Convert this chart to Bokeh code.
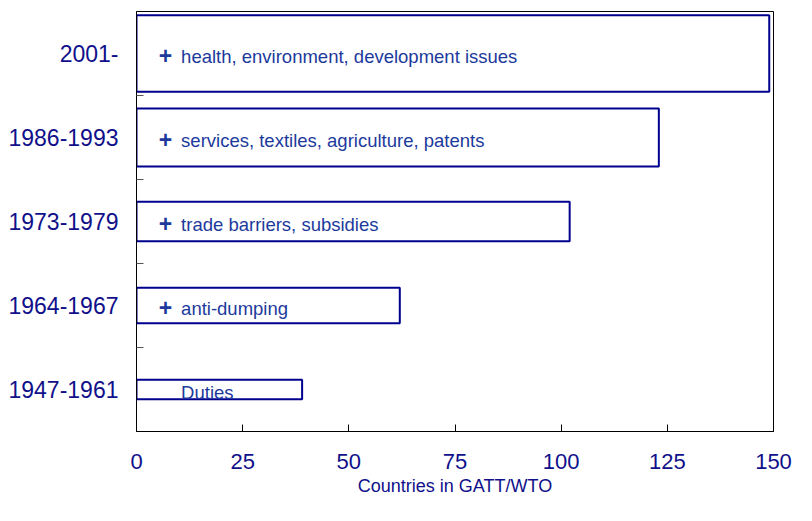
from bokeh.plotting import figure
from bokeh.models import ColumnDataSource, FixedTicker, Range1d
from bokeh.core.properties import value
from bokeh.embed import file_html
from bokeh.resources import INLINE

# ---- data ----
rounds = ["1947-1961", "1964-1967", "1973-1979", "1986-1993", "2001-"]
countries = [39, 62, 102, 123, 149]
topics = ["Duties", "anti-dumping", "trade barriers, subsidies",
          "services, textiles, agriculture, patents",
          "health, environment, development issues"]
adds_topics = [False, True, True, True, True]
x_ticks = [0, 25, 50, 75, 100, 125, 150]

# ---- style ----
bar_heights = [0.23, 0.42, 0.47, 0.69, 0.91]
NAVY = "#10108a"
BAR = "#00008f"
TXT = "#1c3a9c"
FONT = "Liberation Sans"

ypos = list(range(len(rounds)))
src = ColumnDataSource(dict(y=ypos, right=countries, h=bar_heights, topic=topics))
plus_src = ColumnDataSource(dict(
    y=[y for y, a in zip(ypos, adds_topics) if a],
    t=["+" for a in adds_topics if a]))

p = figure(width=796, height=505, output_backend="svg", toolbar_location=None,
           x_range=Range1d(0, 150), y_range=Range1d(-0.5, len(rounds) - 0.5),
           min_border_left=136, min_border_top=11, min_border_right=23,
           min_border_bottom=74)
p.background_fill_color = "white"
p.border_fill_color = "white"
p.grid.visible = False
p.outline_line_color = "black"
p.outline_line_width = 1

p.hbar(y="y", left=0, right="right", height="h", source=src,
       fill_color="white", line_color=BAR, line_width=2)

p.text(x=6.8, y="y", text="t", source=plus_src, text_align="center",
       text_baseline="middle", text_color=TXT, text_font=value(FONT),
       text_font_size="23px", text_font_style="bold", y_offset=2)
p.text(x=10.5, y="y", text="topic", source=src, text_align="left",
       text_baseline="middle", text_color=TXT, text_font=value(FONT),
       text_font_size="18.5px", y_offset=3)

# x axis
xa = p.xaxis[0]
xa.ticker = FixedTicker(ticks=x_ticks)
xa.major_tick_in = 7
xa.major_tick_out = 0
xa.minor_tick_line_color = None
xa.axis_line_color = "black"
xa.major_tick_line_color = "black"
xa.major_label_text_font = FONT
xa.major_label_text_font_size = "22px"
xa.major_label_text_color = NAVY
xa.major_label_standoff = 22
xa.axis_label = "Countries in GATT/WTO"
xa.axis_label_text_font = FONT
xa.axis_label_text_font_size = "18px"
xa.axis_label_text_font_style = "normal"
xa.axis_label_text_color = NAVY
xa.axis_label_standoff = 4

# y axis
ya = p.yaxis[0]
ya.ticker = FixedTicker(ticks=ypos, minor_ticks=[y + 0.5 for y in ypos[:-1]])
ya.major_label_overrides = {y: r for y, r in zip(ypos, rounds)}
ya.major_tick_line_color = None
ya.major_tick_in = 0
ya.major_tick_out = 0
ya.minor_tick_in = 7
ya.minor_tick_out = 0
ya.minor_tick_line_color = "#555555"
ya.axis_line_color = "black"
ya.major_label_text_font = FONT
ya.major_label_text_font_size = "23px"
ya.major_label_text_color = NAVY
ya.major_label_standoff = 18

open("out.html", "w").write(file_html(p, INLINE))
